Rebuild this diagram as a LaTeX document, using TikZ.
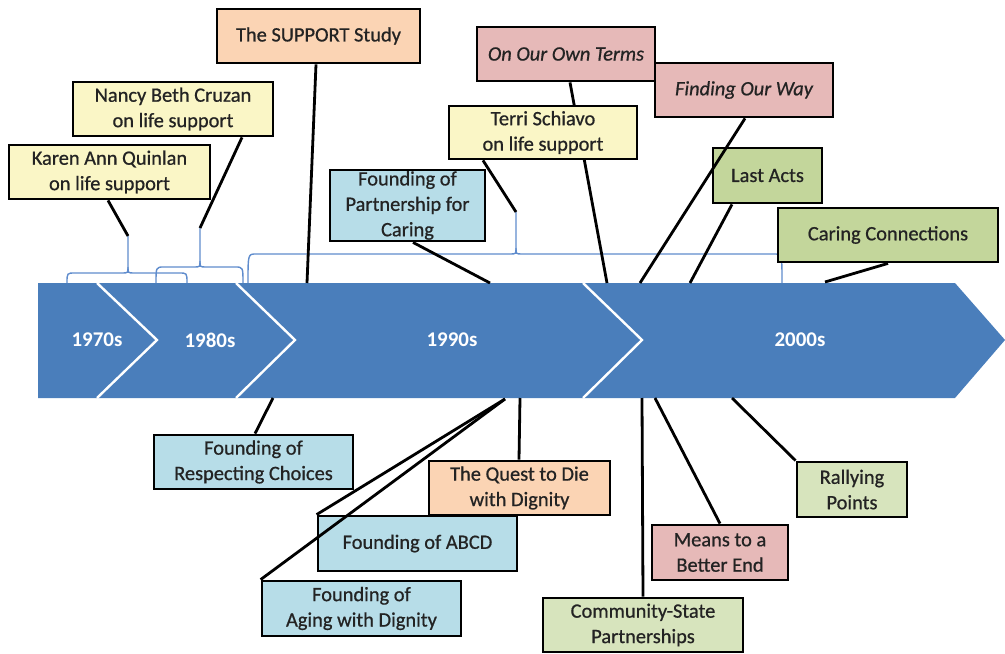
\documentclass[tikz,border=0pt]{standalone}
\usepackage{fontspec}
\setmainfont{Carlito}
\newfontfamily\boxfont{Carlito}[FakeBold=0.7]
\usetikzlibrary{calc}
\pgfdeclarelayer{bg}
\pgfsetlayers{bg,main}
\definecolor{arrowblue}{RGB}{74,126,187}
\definecolor{bracecol}{RGB}{95,140,205}
\definecolor{yel}{RGB}{250,246,198}
\definecolor{peach}{RGB}{251,212,180}
\definecolor{pinkbox}{RGB}{230,185,184}
\definecolor{lblue}{RGB}{183,221,232}
\definecolor{grn}{RGB}{195,214,155}
\definecolor{lgrn}{RGB}{215,228,189}
\definecolor{txt}{RGB}{35,35,35}
\newcommand\drawmybrace[5]{%
  \draw[brc] (#1,283) .. controls (#1,#4) .. (#1+8,#4) -- (#3-6,#4) .. controls (#3,#4) .. (#3,#4-6) -- (#5);
  \draw[brc] (#2,283) .. controls (#2,#4) .. (#2-8,#4) -- (#3+6,#4) .. controls (#3,#4) .. (#3,#4-6);}
\begin{document}
\begin{tikzpicture}[x=1bp,y=-1bp,
  box/.style={draw=black, line width=2.8bp, inner sep=0pt, align=center,
    font=\boxfont\fontsize{20.5}{25.5}\selectfont, text=txt},
  conn/.style={line width=2.8bp, draw=black},
  brc/.style={draw=bracecol, line width=1.4bp},
  decade/.style={font=\fontsize{21}{25}\selectfont\bfseries, text=white},
  chev/.style={draw=white, line width=2.4bp}
]
\useasboundingbox (0,0) rectangle (1005,654);

% timeline arrow
\begin{pgfonlayer}{bg}
\fill[arrowblue] (38,283) -- (955,283) -- (1005,340) -- (955,398) -- (38,398) -- cycle;
\draw[chev] (97,283) -- (157,340) -- (97,398);
\draw[chev] (236,283) -- (295,340) -- (236,398);
\draw[chev] (583,283) -- (642,340) -- (583,398);
\end{pgfonlayer}
\node[decade] (d70) at (97,340) {1970s};
\node[decade] (d80) at (210,340) {1980s};
\node[decade] (d90) at (452,340) {1990s};
\node[decade] (d00) at (800,340) {2000s};

% brace tips and points on the arrow
\coordinate (tipA) at (128,236);
\coordinate (tipB) at (200,228);
\coordinate (tipC) at (516,212);
\coordinate (pSup) at (307,283);
\coordinate (pPfc) at (490,283);
\coordinate (pOot) at (607,283);
\coordinate (pFow) at (640,283);
\coordinate (pLa) at (690,283);
\coordinate (pCc) at (825,282);
\coordinate (pRc) at (273,398);
\coordinate (pAb) at (505,399);
\coordinate (pQd) at (520,398);
\coordinate (pCs) at (642,398);
\coordinate (pMb) at (655,398);
\coordinate (pRp) at (732,398);

\begin{pgfonlayer}{bg}
\drawmybrace{67}{187}{128}{273}{tipA}
\drawmybrace{156}{243}{200}{267}{tipB}
\drawmybrace{248}{782}{516}{254}{tipC}
\end{pgfonlayer}

% boxes above the timeline
\node[box, fill=yel, minimum width=201bp, minimum height=54bp] (kq) at (109.5,172) {Karen Ann Quinlan\\on life support};
\node[box, fill=yel, minimum width=200bp, minimum height=54bp] (nc) at (173,109) {Nancy Beth Cruzan\\on life support};
\node[box, fill=peach, minimum width=203bp, minimum height=54bp] (sup) at (318.5,36) {The SUPPORT Study};
\node[box, fill=pinkbox, minimum width=178bp, minimum height=54bp] (oot) at (566,54) {\itshape On Our Own Terms};
\node[box, fill=pinkbox, minimum width=178bp, minimum height=54bp] (fow) at (744,90) {\itshape Finding Our Way};
\node[box, fill=yel, minimum width=188bp, minimum height=53bp] (ts) at (543,132.5) {Terri Schiavo\\on life support};
\node[box, fill=grn, minimum width=109bp, minimum height=55bp] (la) at (767.5,175.5) {Last Acts};
\node[box, fill=grn, minimum width=220bp, minimum height=54bp] (cc) at (888,235) {Caring Connections};
\node[box, fill=lblue, minimum width=155bp, minimum height=71bp] (pfc) at (407.5,205.5) {Founding of\\Partnership for\\Caring};

% boxes below the timeline
\node[box, fill=lblue, minimum width=199bp, minimum height=54bp] (rc) at (253.5,462) {Founding of\\Respecting Choices};
\node[box, fill=peach, minimum width=181bp, minimum height=54bp] (qd) at (519.5,488) {The Quest to Die\\with Dignity};
\node[box, fill=lblue, minimum width=199bp, minimum height=55bp] (abcd) at (417.5,543.5) {Founding of ABCD};
\node[box, fill=lblue, minimum width=199bp, minimum height=55bp] (awd) at (361.5,608.5) {Founding of\\Aging with Dignity};
\node[box, fill=lgrn, minimum width=200bp, minimum height=54bp] (cs) at (643,625) {Community-State\\Partnerships};
\node[box, fill=pinkbox, minimum width=136bp, minimum height=55bp] (mbe) at (720,552.5) {Means to a\\Better End};
\node[box, fill=lgrn, minimum width=110bp, minimum height=55bp] (rp) at (852,489.5) {Rallying\\Points};

% connector hidden behind the Terri Schiavo box
\begin{pgfonlayer}{bg}
\draw[conn] (570,0 |- oot.south) -- (pOot);
\end{pgfonlayer}

% connectors
\draw[conn] (108,0 |- kq.south) -- (tipA);
\draw[conn] (242,0 |- nc.south) -- (tipB);
\draw[conn] (316,0 |- sup.south) -- (pSup);
\draw[conn] (483,0 |- ts.south) -- (tipC);
\draw[conn] (413,0 |- pfc.south) -- (pPfc);
\draw[conn] (745,0 |- fow.south) -- (pFow);
\draw[conn] (732,0 |- la.south) -- (pLa);
\draw[conn] (888,0 |- cc.south) -- (pCc);
\draw[conn] (pRc) -- (255,0 |- rc.north);
\draw[conn] (pAb) -- (abcd.north west);
\draw[conn] (pAb) -- (awd.north west);
\draw[conn] (pQd) -- (519,0 |- qd.north);
\draw[conn] (pCs) -- (cs.north);
\draw[conn] (pMb) -- (mbe.north);
\draw[conn] (pRp) -- (rp.north west);
\end{tikzpicture}
\end{document}
